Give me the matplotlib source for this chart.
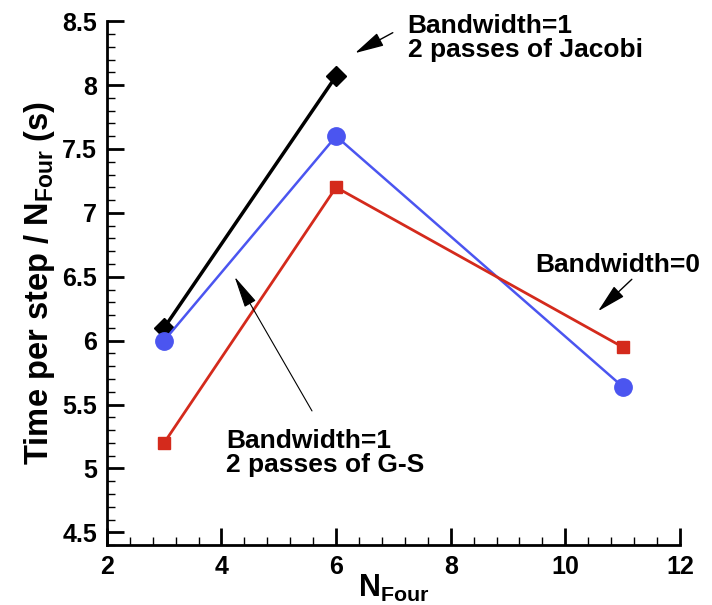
import matplotlib
matplotlib.use("Agg")
import matplotlib.pyplot as plt
from matplotlib.ticker import MultipleLocator, FormatStrFormatter

plt.rcParams['font.family'] = ['Liberation Sans', 'DejaVu Sans']
plt.rcParams['font.weight'] = 'bold'
plt.rcParams['mathtext.fontset'] = 'custom'
plt.rcParams['mathtext.rm'] = 'Liberation Sans:bold'
plt.rcParams['mathtext.bf'] = 'Liberation Sans:bold'

# timings per step, normalised by N_Four
n_jacobi = [3, 6]
t_jacobi = [6.1, 8.07]
n_bw1_gs = [3, 6, 11]
t_bw1_gs = [6.0, 7.6, 5.64]
n_bw0 = [3, 6, 11]
t_bw0 = [5.2, 7.2, 5.95]

fig = plt.figure(figsize=(7.12, 6.05), dpi=100)
ax = fig.add_axes([0.150, 0.099, 0.805, 0.866])

ax.plot(n_jacobi, t_jacobi, color='black', lw=2.5, marker='D', ms=10, zorder=3)
ax.plot(n_bw1_gs, t_bw1_gs, color='#4b55f0', lw=1.8, marker='o', ms=12.5, zorder=3)
ax.plot(n_bw0, t_bw0, color='#d42a1c', lw=2.0, marker='s', ms=8.5, zorder=3)

ax.set_xlim(2, 12)
ax.set_ylim(4.4, 8.5)
ax.xaxis.set_major_locator(MultipleLocator(2))
ax.xaxis.set_minor_locator(MultipleLocator(0.4))
ax.yaxis.set_major_locator(MultipleLocator(0.5))
ax.yaxis.set_minor_locator(MultipleLocator(0.1))
ax.xaxis.set_major_formatter(FormatStrFormatter('%g'))
ax.yaxis.set_major_formatter(FormatStrFormatter('%g'))

for s in ['top', 'right']:
    ax.spines[s].set_visible(False)
for s in ['left', 'bottom']:
    ax.spines[s].set_linewidth(2)
ax.tick_params(which='major', direction='in', length=12, width=2, labelsize=18, pad=7)
ax.tick_params(which='minor', direction='in', length=6, width=1)
for lab in ax.get_xticklabels() + ax.get_yticklabels():
    lab.set_fontweight('bold')

ax.set_xlabel(r'$\mathbf{N}_{\mathbf{Four}}$', fontsize=22, labelpad=-4)
ax.set_ylabel(r'Time per step / $\mathbf{N}_{\mathbf{Four}}$ (s)', fontsize=23.5,
              fontweight='bold', labelpad=4)

arrow = dict(arrowstyle='-|>,head_length=0.9,head_width=0.22', color='black',
             lw=1, mutation_scale=20, shrinkA=0, shrinkB=0)
ax.text(7.25, 8.37, 'Bandwidth=1\n2 passes of Jacobi', fontsize=19,
        fontweight='bold', va='center', ha='left', linespacing=1.0)
ax.annotate('', xy=(6.33, 8.25), xytext=(6.99, 8.41), arrowprops=arrow)
ax.text(9.47, 6.59, 'Bandwidth=0', fontsize=19, fontweight='bold',
        va='center', ha='left')
ax.annotate('', xy=(10.57, 6.23), xytext=(11.16, 6.48), arrowprops=arrow)
ax.text(4.08, 5.12, 'Bandwidth=1\n2 passes of G-S', fontsize=19,
        fontweight='bold', va='center', ha='left', linespacing=1.0)
ax.annotate('', xy=(4.23, 6.5), xytext=(5.58, 5.45),
            arrowprops=dict(arrowstyle='-|>,head_length=1.0,head_width=0.2',
                            color='black', lw=0.8, mutation_scale=20,
                            shrinkA=0, shrinkB=0))

fig.savefig('out.png', dpi=100)
